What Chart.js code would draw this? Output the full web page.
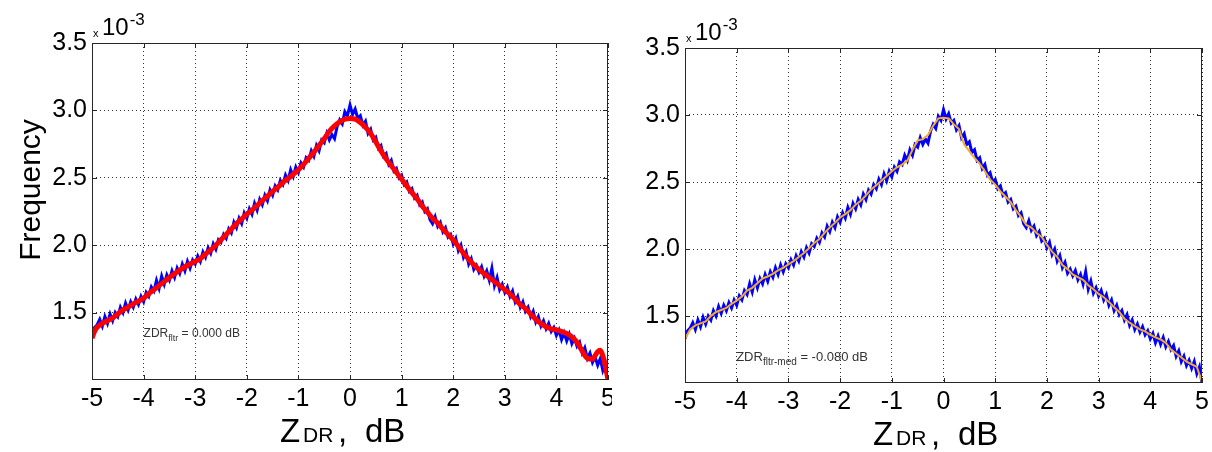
<!DOCTYPE html>
<html>
<head>
<meta charset="utf-8">
<title>ZDR histogram</title>
<script src="https://cdn.jsdelivr.net/npm/chart.js@4.4.1/dist/chart.umd.min.js"></script>
<style>
    body { margin: 0; background: #fff; }
    .panel { position: absolute; top: 0; height: 452px; }
    #panel-fltr { left: 0; width: 612px; }
    #panel-med { left: 612px; width: 600px; }
</style>
</head>
<body>
<div class="panel" id="panel-fltr"><canvas id="chart-fltr"></canvas></div>
<div class="panel" id="panel-med"><canvas id="chart-med"></canvas></div>
<script>
// ZDR bin centres (dB)
const zdrBins = [
    -5.00, -4.95, -4.90, -4.85, -4.80, -4.75, -4.70, -4.65, -4.60, -4.55,
    -4.50, -4.45, -4.40, -4.35, -4.30, -4.25, -4.20, -4.15, -4.10, -4.05,
    -4.00, -3.95, -3.90, -3.85, -3.80, -3.75, -3.70, -3.65, -3.60, -3.55,
    -3.50, -3.45, -3.40, -3.35, -3.30, -3.25, -3.20, -3.15, -3.10, -3.05,
    -3.00, -2.95, -2.90, -2.85, -2.80, -2.75, -2.70, -2.65, -2.60, -2.55,
    -2.50, -2.45, -2.40, -2.35, -2.30, -2.25, -2.20, -2.15, -2.10, -2.05,
    -2.00, -1.95, -1.90, -1.85, -1.80, -1.75, -1.70, -1.65, -1.60, -1.55,
    -1.50, -1.45, -1.40, -1.35, -1.30, -1.25, -1.20, -1.15, -1.10, -1.05,
    -1.00, -0.95, -0.90, -0.85, -0.80, -0.75, -0.70, -0.65, -0.60, -0.55,
    -0.50, -0.45, -0.40, -0.35, -0.30, -0.25, -0.20, -0.15, -0.10, -0.05,
    0.00, 0.05, 0.10, 0.15, 0.20, 0.25, 0.30, 0.35, 0.40, 0.45,
    0.50, 0.55, 0.60, 0.65, 0.70, 0.75, 0.80, 0.85, 0.90, 0.95,
    1.00, 1.05, 1.10, 1.15, 1.20, 1.25, 1.30, 1.35, 1.40, 1.45,
    1.50, 1.55, 1.60, 1.65, 1.70, 1.75, 1.80, 1.85, 1.90, 1.95,
    2.00, 2.05, 2.10, 2.15, 2.20, 2.25, 2.30, 2.35, 2.40, 2.45,
    2.50, 2.55, 2.60, 2.65, 2.70, 2.75, 2.80, 2.85, 2.90, 2.95,
    3.00, 3.05, 3.10, 3.15, 3.20, 3.25, 3.30, 3.35, 3.40, 3.45,
    3.50, 3.55, 3.60, 3.65, 3.70, 3.75, 3.80, 3.85, 3.90, 3.95,
    4.00, 4.05, 4.10, 4.15, 4.20, 4.25, 4.30, 4.35, 4.40, 4.45,
    4.50, 4.55, 4.60, 4.65, 4.70, 4.75, 4.80, 4.85, 4.90, 4.95, 5.00
];
// histogram frequency, in units of 1e-3
const histFreq = [
    1.33, 1.39, 1.41, 1.45, 1.40, 1.47, 1.42, 1.49, 1.44, 1.50,
    1.47, 1.54, 1.50, 1.57, 1.52, 1.58, 1.54, 1.60, 1.56, 1.62,
    1.58, 1.65, 1.62, 1.69, 1.66, 1.74, 1.68, 1.77, 1.71, 1.78,
    1.74, 1.81, 1.76, 1.83, 1.79, 1.86, 1.81, 1.88, 1.83, 1.89,
    1.86, 1.92, 1.88, 1.95, 1.91, 1.98, 1.94, 2.01, 1.97, 2.04,
    2.02, 2.08, 2.05, 2.12, 2.09, 2.17, 2.13, 2.20, 2.16, 2.24,
    2.20, 2.27, 2.23, 2.31, 2.26, 2.34, 2.30, 2.37, 2.33, 2.41,
    2.37, 2.44, 2.41, 2.48, 2.45, 2.52, 2.48, 2.56, 2.51, 2.58,
    2.54, 2.61, 2.58, 2.65, 2.63, 2.70, 2.66, 2.74, 2.70, 2.78,
    2.76, 2.83, 2.78, 2.82, 2.79, 2.88, 2.93, 2.90, 2.99, 2.96,
    3.04, 2.97, 3.01, 2.94, 2.96, 2.89, 2.92, 2.83, 2.86, 2.78,
    2.80, 2.72, 2.74, 2.66, 2.68, 2.60, 2.63, 2.55, 2.57, 2.50,
    2.52, 2.45, 2.47, 2.40, 2.42, 2.35, 2.37, 2.30, 2.32, 2.25,
    2.27, 2.19, 2.16, 2.21, 2.14, 2.17, 2.10, 2.13, 2.06, 2.08,
    2.01, 2.05, 1.96, 2.00, 1.91, 1.95, 1.86, 1.90, 1.82, 1.85,
    1.80, 1.84, 1.77, 1.81, 1.74, 1.83, 1.70, 1.76, 1.67, 1.71,
    1.65, 1.69, 1.62, 1.66, 1.58, 1.62, 1.54, 1.58, 1.51, 1.54,
    1.47, 1.51, 1.43, 1.47, 1.40, 1.44, 1.38, 1.42, 1.36, 1.39,
    1.33, 1.37, 1.30, 1.35, 1.29, 1.34, 1.27, 1.31, 1.25, 1.28,
    1.20, 1.24, 1.16, 1.20, 1.13, 1.17, 1.11, 1.16, 1.07, 1.12, 1.00
];

// fitted curve (left panel)
const fitZdr = [
    -5.0, -4.95, -4.9, -4.8, -4.7, -4.6, -4.5, -4.4, -4.3, -4.2, -4.1,
    -4.0, -3.9, -3.8, -3.7, -3.6, -3.5, -3.4, -3.3, -3.2, -3.1,
    -3.0, -2.9, -2.8, -2.7, -2.6, -2.5, -2.4, -2.3, -2.2, -2.1,
    -2.0, -1.9, -1.8, -1.7, -1.6, -1.5, -1.4, -1.3, -1.2, -1.1,
    -1.0, -0.9, -0.8, -0.7, -0.6, -0.5, -0.4, -0.3, -0.2, -0.1,
    0.0, 0.1, 0.2, 0.3, 0.4, 0.5, 0.6, 0.7, 0.8, 0.9,
    1.0, 1.1, 1.2, 1.3, 1.4, 1.5, 1.6, 1.7, 1.8, 1.9,
    2.0, 2.1, 2.2, 2.3, 2.4, 2.5, 2.6, 2.7, 2.8, 2.9,
    3.0, 3.1, 3.2, 3.3, 3.4, 3.5, 3.6, 3.7, 3.8, 3.9,
    4.0, 4.1, 4.2, 4.3, 4.4, 4.5, 4.6, 4.7, 4.75, 4.8, 4.85, 4.9, 4.95, 5.0
];
const fitFreq = [
    1.31, 1.36, 1.39, 1.42, 1.44, 1.46, 1.49, 1.52, 1.54, 1.565, 1.585,
    1.607, 1.64, 1.67, 1.70, 1.73, 1.76, 1.788, 1.815, 1.84, 1.86,
    1.88, 1.90, 1.935, 1.965, 2.00, 2.04, 2.08, 2.12, 2.16, 2.195,
    2.23, 2.26, 2.295, 2.33, 2.364, 2.40, 2.43, 2.465, 2.495, 2.525,
    2.56, 2.60, 2.645, 2.69, 2.74, 2.79, 2.845, 2.885, 2.915, 2.935,
    2.94, 2.935, 2.91, 2.875, 2.83, 2.765, 2.70, 2.64, 2.59, 2.54,
    2.49, 2.44, 2.39, 2.345, 2.29, 2.245, 2.20, 2.165, 2.12, 2.08,
    2.04, 1.99, 1.94, 1.895, 1.855, 1.82, 1.79, 1.76, 1.73, 1.70,
    1.67, 1.64, 1.60, 1.56, 1.53, 1.49, 1.45, 1.42, 1.395, 1.38,
    1.372, 1.36, 1.345, 1.32, 1.28, 1.215, 1.16, 1.155, 1.18, 1.21, 1.22, 1.18, 1.10, 1.00
];

// median-filtered curve (right panel)
const medZdr = [
    -5.0, -4.9, -4.8, -4.7, -4.6, -4.5, -4.4, -4.3, -4.2, -4.1,
    -4.0, -3.9, -3.8, -3.7, -3.6, -3.5, -3.4, -3.3, -3.2, -3.1,
    -3.0, -2.9, -2.8, -2.7, -2.6, -2.5, -2.4, -2.3, -2.2, -2.1,
    -2.0, -1.9, -1.8, -1.7, -1.6, -1.5, -1.4, -1.3, -1.2, -1.1,
    -1.0, -0.9, -0.8, -0.7, -0.6, -0.5, -0.4, -0.3, -0.2, -0.1,
    0.0, 0.1, 0.2, 0.3, 0.4, 0.5, 0.6, 0.7, 0.8, 0.9,
    1.0, 1.1, 1.2, 1.3, 1.4, 1.5, 1.6, 1.7, 1.8, 1.9,
    2.0, 2.1, 2.2, 2.3, 2.4, 2.5, 2.6, 2.7, 2.8, 2.9,
    3.0, 3.1, 3.2, 3.3, 3.4, 3.5, 3.6, 3.7, 3.8, 3.9,
    4.0, 4.1, 4.2, 4.3, 4.4, 4.5, 4.6, 4.7, 4.8, 4.9, 5.0
];
const medFreq = [
    1.33, 1.40, 1.43, 1.445, 1.46, 1.50, 1.53, 1.545, 1.56, 1.59,
    1.615, 1.645, 1.69, 1.71, 1.745, 1.78, 1.795, 1.815, 1.84, 1.86,
    1.885, 1.91, 1.94, 1.97, 2.005, 2.045, 2.075, 2.12, 2.16, 2.195,
    2.235, 2.26, 2.29, 2.33, 2.36, 2.40, 2.445, 2.475, 2.51, 2.545,
    2.58, 2.61, 2.63, 2.66, 2.74, 2.81, 2.82, 2.85, 2.92, 2.975,
    2.98, 2.975, 2.93, 2.895, 2.78, 2.73, 2.68, 2.635, 2.58, 2.52,
    2.48, 2.43, 2.39, 2.35, 2.29, 2.24, 2.18, 2.16, 2.12, 2.09,
    2.03, 1.98, 1.94, 1.88, 1.85, 1.81, 1.79, 1.77, 1.73, 1.70,
    1.665, 1.64, 1.605, 1.565, 1.53, 1.48, 1.45, 1.425, 1.40, 1.385,
    1.36, 1.34, 1.325, 1.30, 1.25, 1.22, 1.19, 1.16, 1.14, 1.12, 1.01
];

const xTickValues = [-5, -4, -3, -2, -1, 0, 1, 2, 3, 4, 5];
const yTickValues = [1.5, 2.0, 2.5, 3.0, 3.5];

const FONT = '"Liberation Sans", Arial, sans-serif';
Chart.defaults.font.family = FONT;
Chart.defaults.color = '#000';

// MATLAB style frame: box, inward ticks, exponent, axis labels, note
const matlabFrame = {
    id: 'matlabFrame',
    afterDatasetsDraw(chart, args, opts) {
        const {ctx, chartArea: a, scales: {x, y}} = chart;
        ctx.save();
        ctx.strokeStyle = '#262626';
        ctx.lineWidth = 1;
        ctx.beginPath();
        x.ticks.forEach(t => {
            const px = Math.round(x.getPixelForValue(t.value)) + 0.5;
            ctx.moveTo(px, a.bottom); ctx.lineTo(px, a.bottom - 5);
            ctx.moveTo(px, a.top); ctx.lineTo(px, a.top + 5);
        });
        y.ticks.forEach(t => {
            const py = Math.round(y.getPixelForValue(t.value)) + 0.5;
            ctx.moveTo(a.left, py); ctx.lineTo(a.left + 5, py);
            ctx.moveTo(a.right, py); ctx.lineTo(a.right - 5, py);
        });
        ctx.stroke();
        ctx.strokeRect(Math.round(a.left) + 0.5, Math.round(a.top) + 0.5,
            Math.round(a.width) - 1, Math.round(a.height) - 1);

        // x10^-3
        ctx.fillStyle = '#000';
        ctx.textAlign = 'left';
        ctx.textBaseline = 'alphabetic';
        ctx.font = '11px ' + FONT;
        ctx.fillText('x', a.left + 1, a.top - 6);
        ctx.font = '24px ' + FONT;
        ctx.fillText('10', a.left + 10, a.top - 8);
        const w10 = ctx.measureText('10').width;
        ctx.font = '17px ' + FONT;
        ctx.fillText('-3', a.left + 11 + w10, a.top - 18);

        // x axis label: Z_DR , dB
        const tx = a.left + 188, ty = a.bottom + 62;
        ctx.font = '33px ' + FONT;
        ctx.fillText('Z', tx, ty);
        ctx.font = '21px ' + FONT;
        ctx.fillText('DR', tx + 23, ty);
        ctx.font = '33px ' + FONT;
        ctx.fillText(',', tx + 58, ty);
        ctx.fillText('dB', tx + 85, ty);

        // y axis label
        if (opts.yTitle) {
            ctx.save();
            ctx.translate(40, 190);
            ctx.rotate(-Math.PI / 2);
            ctx.textAlign = 'center';
            ctx.font = '30px ' + FONT;
            ctx.fillText(opts.yTitle, 0, 0);
            ctx.restore();
        }

        // note
        const n = opts.note;
        let nx = x.getPixelForValue(n.zdr);
        const ny = y.getPixelForValue(n.freq);
        ctx.fillStyle = '#333';
        ctx.font = n.size + 'px ' + FONT;
        ctx.fillText('ZDR', nx, ny);
        nx += ctx.measureText('ZDR').width;
        ctx.font = n.subSize + 'px ' + FONT;
        ctx.fillText(n.sub, nx, ny + 4);
        nx += ctx.measureText(n.sub).width;
        ctx.font = n.size + 'px ' + FONT;
        ctx.fillText(' = ' + n.value, nx, ny);
        ctx.restore();
    }
};

function makeOptions(p) {
    return {
        animation: false,
        responsive: true,
        maintainAspectRatio: false,
        layout: { padding: { left: 0, top: p.top, right: p.right, bottom: 0 } },
        plugins: {
            legend: { display: false },
            tooltip: { enabled: false },
            matlabFrame: { note: p.note, yTitle: p.yTitle }
        },
        scales: {
            x: {
                type: 'linear',
                min: -5,
                max: 5,
                afterBuildTicks: s => { s.ticks = xTickValues.map(v => ({ value: v })); },
                afterFit: s => { s.height = p.xAxisHeight; s.paddingLeft = 0; s.paddingRight = 0; },
                ticks: {
                    autoSkip: false,
                    maxRotation: 0,
                    padding: 4,
                    font: { size: 25 },
                    color: '#000',
                    callback: v => String(v)
                },
                grid: { color: '#333', lineWidth: 1, drawTicks: false },
                border: { display: false, dash: [1, 3] }
            },
            y: {
                min: 1.0,
                max: 3.5,
                afterBuildTicks: s => { s.ticks = yTickValues.map(v => ({ value: v })); },
                afterFit: s => { s.width = p.yAxisWidth; s.paddingTop = 0; s.paddingBottom = 0; },
                ticks: {
                    padding: 5,
                    font: { size: 25 },
                    color: '#000',
                    callback: v => v.toFixed(1)
                },
                grid: { color: '#333', lineWidth: 1, drawTicks: false },
                border: { display: false, dash: [1, 3] }
            }
        }
    };
}

const toPoints = (xs, ys) => xs.map((v, i) => ({ x: v, y: ys[i] }));

new Chart(document.getElementById('chart-fltr'), {
    type: 'line',
    data: {
        labels: zdrBins,
        datasets: [{
            label: 'fit',
            data: toPoints(fitZdr, fitFreq),
            borderColor: '#ff0000',
            borderWidth: 5,
            pointRadius: 0,
            cubicInterpolationMode: 'monotone'
        }, {
            label: 'histogram',
            data: histFreq,
            borderColor: '#0000ff',
            borderWidth: 3,
            pointRadius: 0,
            tension: 0
        }]
    },
    options: makeOptions({
        top: 43, right: 4, yAxisWidth: 92, xAxisHeight: 72, yTitle: 'Frequency',
        note: { zdr: -4.0, freq: 1.32, size: 12, subSize: 9, sub: 'fltr', value: '0.000 dB' }
    }),
    plugins: [matlabFrame]
});

new Chart(document.getElementById('chart-med'), {
    type: 'line',
    data: {
        labels: zdrBins,
        datasets: [{
            label: 'median',
            data: toPoints(medZdr, medFreq),
            borderColor: 'rgb(245,170,40)',
            borderWidth: 2,
            pointRadius: 0,
            tension: 0
        }, {
            label: 'histogram',
            data: histFreq,
            borderColor: '#0000ff',
            borderWidth: 3,
            pointRadius: 0,
            tension: 0
        }]
    },
    options: makeOptions({
        top: 48, right: 10, yAxisWidth: 73, xAxisHeight: 69, yTitle: null,
        note: { zdr: -4.01, freq: 1.167, size: 13, subSize: 10, sub: 'fltr-med', value: '-0.080 dB' }
    }),
    plugins: [matlabFrame]
});
</script>
</body>
</html>
